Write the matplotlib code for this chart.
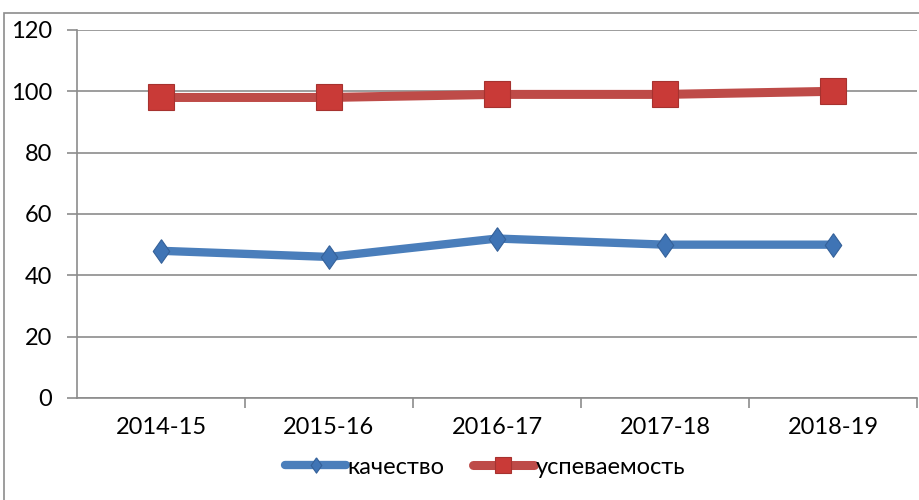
import numpy as np
import matplotlib
matplotlib.use('Agg')
import matplotlib.pyplot as plt
from matplotlib.patches import Rectangle

plt.rcParams['font.family'] = ['Lato', 'DejaVu Sans']

# ---- data ----
years = ['2014-15', '2015-16', '2016-17', '2017-18', '2018-19']
kachestvo = [48, 46, 52, 50, 50]
uspevaemost = [98, 98, 99, 99, 100]

BLUE = '#4A7EBB'
RED = '#BE4B48'
GRID = '#8C8C8C'
FS = 17

fig = plt.figure(figsize=(9.2, 5.0), dpi=100)
ax = fig.add_axes([77 / 920, 102 / 500, 840 / 920, 368 / 500])

# outer chart frame (runs off the right/bottom edge like the original)
fig.patches.append(Rectangle((4 / 920, -0.1), 1.1, (500 - 13) / 500 + 0.1,
                             transform=fig.transFigure, fill=False,
                             edgecolor=GRID, linewidth=1.2))

diamond = [(0, 1), (0.7, 0), (0, -1), (-0.7, 0), (0, 1)]

x = np.arange(len(years))
ax.plot(x, kachestvo, color=BLUE, lw=6, marker=diamond, ms=17,
        mfc='#3F74B5', mec='#356199', mew=0.8, label='качество',
        solid_capstyle='round', zorder=3)
ax.plot(x, uspevaemost, color=RED, lw=6.5, marker='s', ms=18.5,
        mfc='#C93A37', mec='#A6322F', mew=0.8, label='успеваемость',
        solid_capstyle='round', zorder=3)

ax.set_xlim(-0.5, len(years) - 0.5)
ax.set_ylim(0, 120)
ax.set_yticks(np.arange(0, 121, 20))
ax.set_xticks(x)
ax.set_xticklabels(years, fontsize=FS)
ax.set_xticks(np.arange(len(years)) + 0.5, minor=True)
ax.tick_params(axis='x', which='major', length=0, pad=14)
ax.tick_params(axis='x', which='minor', length=7, width=1.2, color=GRID)
ax.tick_params(axis='y', length=7, width=1.2, color=GRID, pad=11, labelsize=FS)

ax.grid(axis='y', color=GRID, linewidth=1.2)
ax.set_axisbelow(True)
for s in ['top', 'right']:
    ax.spines[s].set_visible(False)
for s in ['left', 'bottom']:
    ax.spines[s].set_color(GRID)
    ax.spines[s].set_linewidth(1.2)

fig.legend(loc='center', bbox_to_anchor=(0.527, 0.066), ncol=2, frameon=False,
           fontsize=FS, handlelength=2.6, handletextpad=0.05, columnspacing=1.2,
           markerscale=0.65)

fig.savefig('out.png', dpi=100, facecolor='white')
